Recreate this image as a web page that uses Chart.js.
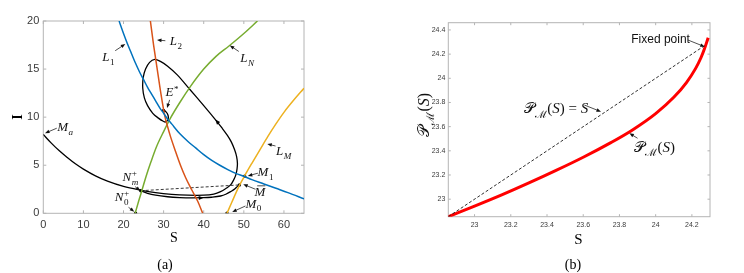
<!DOCTYPE html>
<html>
<head>
<meta charset="utf-8">
<script src="https://cdn.jsdelivr.net/npm/chart.js@4.4.1/dist/chart.umd.min.js"></script>
<style>
  html, body { margin: 0; padding: 0; background: #fff; }
  #wrap { position: relative; width: 744px; height: 273px; overflow: hidden; }
  #wrap canvas { position: absolute; left: 0; top: 0; }
</style>
</head>
<body>
<div id="wrap">
  <canvas id="chartA" width="744" height="273"></canvas>
  <canvas id="chartB" width="744" height="273"></canvas>
</div>
<script>
// ---------- panel (a): phase plane S-I ----------
const sTicksA = [0, 10, 20, 30, 40, 50, 60];
const iTicksA = [0, 5, 10, 15, 20];

// isoclines
const l1S = [18.9, 20, 21, 22, 23, 24, 25, 26, 27, 28, 29, 30, 31, 32, 34, 36, 38, 40, 42, 44, 46, 48, 50, 52, 55, 58, 61, 65];
const l1I = [20, 18.7, 17.6, 16.6, 15.6, 14.7, 13.9, 13.1, 12.4, 11.7, 11.0, 10.4, 9.8, 9.3, 8.3, 7.5, 6.8, 6.1, 5.5, 5.0, 4.55, 4.15, 3.85, 3.5, 3.05, 2.6, 2.15, 1.5];
const l2S = [26.7, 27.5, 28.4, 29.3, 30.3, 31.0, 31.7, 33.0, 34.2, 35.5, 37.0, 38.5, 39.75];
const l2I = [20, 17.5, 15, 12.5, 10.1, 9.0, 8.0, 6.4, 5.0, 3.7, 2.45, 1.25, 0];
const lnS = [22.9, 23.8, 24.6, 25.6, 26.8, 28.2, 30, 31.7, 34, 36.7, 40, 43, 46.3, 50, 53.4];
const lnI = [0, 1.3, 2.4, 3.8, 5.3, 6.9, 8.5, 9.9, 11.5, 13.2, 15.0, 16.3, 17.4, 18.7, 20];
const lmS = [45.8, 47, 48.9, 50.2, 52, 54, 56, 58, 60, 62.5, 65];
const lmI = [0, 1.15, 2.9, 3.9, 5.2, 6.6, 8.0, 9.3, 10.5, 11.8, 13.0];

// trajectory from M_a spiralling to E*
const trajS = [0, 2, 4, 6, 8, 10, 13, 16, 20, 24.2, 28, 32, 36, 40, 42.5, 44.2, 45.6, 46.7, 47.5, 48.0, 48.3, 48.4, 48.2, 47.7, 46.9, 45.9, 44.5, 42.9, 40.0, 36.5, 33.4, 31.0, 29.2, 27.8, 26.5, 25.5, 24.9, 24.8, 25.2, 26.0, 27.3, 28.7, 29.8, 30.5, 31.1, 31.1, 30.6, 30.0];
const trajI = [8.2, 7.3, 6.5, 5.8, 5.15, 4.6, 3.9, 3.35, 2.8, 2.42, 2.15, 1.97, 1.88, 1.88, 2.0, 2.25, 2.6, 2.95, 3.5, 4.0, 4.6, 5.2, 5.9, 6.6, 7.4, 8.1, 8.9, 9.75, 11.2, 12.9, 14.4, 15.3, 15.8, 16.0, 15.7, 15.0, 14.1, 13.0, 12.0, 11.2, 10.4, 9.9, 9.6, 9.5, 9.75, 10.2, 10.55, 10.7];

// order-1 periodic orbit N_m^+ -> M-bar, and the impulsive jump back
const orbS = [24.3, 26, 28, 31, 34, 37, 40, 42, 44.2, 45.5, 46.7, 47.8, 48.4, 48.9];
const orbI = [2.35, 2.08, 1.88, 1.72, 1.64, 1.61, 1.62, 1.67, 1.8, 1.98, 2.25, 2.55, 2.8, 2.95];
const jumpS = [24.3, 48.9];
const jumpI = [2.35, 2.95];

// marked points: N0+, Nm+, M0, M-bar, M1, E*
const dotS = [23, 24.3, 45.8, 48.9, 50.2, 30.0];
const dotI = [0, 2.35, 0, 2.95, 3.85, 10.7];

// ---------- panel (b): Poincare map ----------
const sTicksB = [23, 23.2, 23.4, 23.6, 23.8, 24, 24.2];
const pTicksB = [23, 23.2, 23.4, 23.6, 23.8, 24, 24.2, 24.4];
const mapS = [22.855, 23.0, 23.15, 23.3, 23.45, 23.6, 23.75, 23.87, 24.0, 24.1, 24.17, 24.22, 24.25, 24.27, 24.29];
const mapP = [22.855, 22.942, 23.035, 23.134, 23.238, 23.347, 23.466, 23.571, 23.708, 23.843, 23.965, 24.08, 24.17, 24.246, 24.336];
const diagS = [22.855, 24.277];
const diagP = [22.855, 24.277];

// ---------- helpers ----------
const pts = (xs, ys) => xs.map((v, i) => ({ x: v, y: ys[i] }));
const SERIF = '"Liberation Serif", "DejaVu Serif", serif';

// tiny math-text writer: tokens are [text, kind, superscript]
function drawMath(ctx, tokens, cx, cy, size, angle) {
  const runs = tokens.map(([s, k, up]) => {
    const small = k === 'sub' || k === 'subi' || k === 'sup';
    const fs = small ? size * 0.7 : size;
    const font = (k === 'i' || k === 'ibar' || k === 'subi' ? 'italic ' : '') + fs + 'px ' + SERIF;
    ctx.font = font;
    let w = ctx.measureText(s).width;
    const upFont = (size * 0.7) + 'px ' + SERIF;
    if (up) {
      ctx.font = upFont;
      w = Math.max(w, ctx.measureText(up).width);
    }
    if (small) w += size * 0.04;
    return { s, k, up, font, upFont, w };
  });
  const total = runs.reduce((t, r) => t + r.w, 0);
  ctx.save();
  ctx.translate(cx, cy);
  if (angle) ctx.rotate(angle);
  ctx.textAlign = 'left';
  ctx.textBaseline = 'alphabetic';
  let x = -total / 2;
  const base = size * 0.33;
  runs.forEach(r => {
    ctx.font = r.font;
    let dy = 0;
    if (r.k === 'sub' || r.k === 'subi') dy = size * 0.3;
    if (r.k === 'sup') dy = -size * 0.38;
    if (r.up) dy = size * 0.33;
    const off = (r.k === 'sub' || r.k === 'subi' || r.k === 'sup') ? size * 0.04 : 0;
    ctx.fillText(r.s, x + off, base + dy);
    if (r.up) {
      ctx.font = r.upFont;
      ctx.fillText(r.up, x + off, base - size * 0.38);
    }
    if (r.k === 'ibar') {
      ctx.lineWidth = 0.8;
      ctx.beginPath();
      ctx.moveTo(x + r.w * 0.25, base - size * 0.78);
      ctx.lineTo(x + r.w * 1.0, base - size * 0.78);
      ctx.stroke();
    }
    x += r.w;
  });
  ctx.restore();
}

function arrowLine(ctx, x1, y1, x2, y2, head) {
  const a = Math.atan2(y2 - y1, x2 - x1);
  ctx.beginPath();
  ctx.moveTo(x1, y1);
  ctx.lineTo(x2 - Math.cos(a) * head * 0.6, y2 - Math.sin(a) * head * 0.6);
  ctx.stroke();
  arrowHead(ctx, x2, y2, a, head);
}

function arrowHead(ctx, x, y, a, head) {
  ctx.beginPath();
  ctx.moveTo(x, y);
  ctx.lineTo(x - Math.cos(a) * head - Math.sin(a) * head * 0.4, y - Math.sin(a) * head + Math.cos(a) * head * 0.4);
  ctx.lineTo(x - Math.cos(a) * head + Math.sin(a) * head * 0.4, y - Math.sin(a) * head - Math.cos(a) * head * 0.4);
  ctx.closePath();
  ctx.fill();
}

// matlab style box with inward ticks on all four sides
const frame = {
  id: 'frame',
  beforeDatasetsDraw(chart, args, opts) {
    const { ctx, chartArea: a, scales: { x, y } } = chart;
    ctx.save();
    ctx.strokeStyle = opts.color;
    ctx.lineWidth = 1;
    ctx.strokeRect(a.left, a.top, a.width, a.height);
    ctx.beginPath();
    x.ticks.forEach(t => {
      const p = x.getPixelForValue(t.value);
      ctx.moveTo(p, a.bottom); ctx.lineTo(p, a.bottom - opts.len);
      ctx.moveTo(p, a.top); ctx.lineTo(p, a.top + opts.len);
    });
    y.ticks.forEach(t => {
      const p = y.getPixelForValue(t.value);
      ctx.moveTo(a.left, p); ctx.lineTo(a.left + opts.len, p);
      ctx.moveTo(a.right, p); ctx.lineTo(a.right - opts.len, p);
    });
    ctx.stroke();
    ctx.restore();
  }
};

// labels, leader arrows, trajectory arrows and axis titles
const notes = {
  id: 'notes',
  afterDraw(chart, args, opts) {
    const { ctx, scales: { x, y } } = chart;
    const X = v => x.getPixelForValue(v);
    const Y = v => y.getPixelForValue(v);
    ctx.save();
    ctx.fillStyle = '#111';
    ctx.strokeStyle = '#222';
    ctx.lineWidth = 0.8;
    (opts.leaders || []).forEach(l => arrowLine(ctx, X(l.from[0]), Y(l.from[1]), X(l.to[0]), Y(l.to[1]), 4.5));
    (opts.heads || []).forEach(h => {
      ctx.fillStyle = '#000';
      const a = Math.atan2(Y(h.to[1]) - Y(h.at[1]), X(h.to[0]) - X(h.at[0]));
      arrowHead(ctx, X(h.at[0]), Y(h.at[1]), a, 5);
    });
    ctx.fillStyle = '#111';
    (opts.labels || []).forEach(l => drawMath(ctx, l.tokens, X(l.at[0]), Y(l.at[1]), l.size || 13, 0));
    (opts.plain || []).forEach(t => {
      ctx.font = t.font;
      ctx.textAlign = 'center';
      ctx.textBaseline = 'middle';
      ctx.fillText(t.text, X(t.at[0]), Y(t.at[1]));
    });
    // page-positioned texts (axis titles, captions)
    (opts.titles || []).forEach(t => {
      ctx.save();
      ctx.translate(t.px, t.py);
      if (t.angle) ctx.rotate(t.angle);
      if (t.tokens) {
        drawMath(ctx, t.tokens, 0, 0, t.size, 0);
      } else {
        ctx.font = t.font;
        ctx.textAlign = 'center';
        ctx.textBaseline = 'middle';
        ctx.fillStyle = '#000';
        ctx.fillText(t.text, 0, 0);
      }
      ctx.restore();
    });
    ctx.restore();
  }
};

function axis(min, max, list, fit, pad, size) {
  return {
    type: 'linear', min, max,
    afterBuildTicks: s => { s.ticks = list.map(v => ({ value: v })); },
    afterFit: fit,
    grid: { display: false, drawTicks: false },
    border: { display: false },
    ticks: {
      padding: pad, maxRotation: 0, autoSkip: false, color: '#3a3a3a',
      font: { family: 'Liberation Sans', size },
      callback: v => String(+v.toFixed(2))
    }
  };
}

const line = (data, color, width, extra) => Object.assign({
  data, showLine: true, borderColor: color, borderWidth: width,
  pointRadius: 0, fill: false, cubicInterpolationMode: 'monotone'
}, extra || {});

// ---------- chart (a) ----------
new Chart(document.getElementById('chartA'), {
  type: 'scatter',
  data: {
    datasets: [
      line(pts(l1S, l1I), '#0072BD', 1.5),
      line(pts(l2S, l2I), '#D95319', 1.5),
      line(pts(lnS, lnI), '#77AC30', 1.5),
      line(pts(lmS, lmI), '#EDB120', 1.5),
      line(pts(jumpS, jumpI), '#222', 0.9, { borderDash: [3, 2] }),
      line(pts(orbS, orbI), '#000', 1.3),
      line(pts(trajS, trajI), '#000', 1.3, { cubicInterpolationMode: 'default', tension: 0.35 }),
      { data: pts(dotS, dotI), showLine: false, pointRadius: 1.7, pointBorderWidth: 0, pointBackgroundColor: '#000' }
    ]
  },
  options: {
    responsive: false, animation: false, events: [],
    layout: { padding: { left: 0, top: 21, right: 440, bottom: 0 } },
    scales: {
      x: axis(0, 65, sTicksA, s => { s.height = 59.7; }, 5, 11),
      y: axis(0, 20, iTicksA, s => { s.width = 43.3; }, 4, 11)
    },
    plugins: {
      legend: { display: false },
      tooltip: { enabled: false },
      frame: { color: '#b4b4b4', len: 3 },
      notes: {
        leaders: [
          { from: [17.93, 16.91], to: [20.43, 17.6] },
          { from: [30.43, 17.95], to: [28.35, 18.02] },
          { from: [48.75, 16.83], to: [46.5, 17.46] },
          { from: [31.5, 11.8], to: [30.85, 10.94] },
          { from: [3.35, 8.85], to: [0.43, 8.33] },
          { from: [22.9, 2.77], to: [24.18, 2.35] },
          { from: [21.25, 0.625], to: [22.68, 0.17] },
          { from: [57.9, 7.0], to: [55.85, 7.2] },
          { from: [53.5, 4.17], to: [51, 3.89] },
          { from: [52.9, 2.5], to: [49.85, 3.02] },
          { from: [50.4, 0.76], to: [47.1, 0.135] }
        ],
        heads: [
          { at: [42.9, 9.75], to: [40.0, 11.2] },
          { at: [40.0, 1.62], to: [42.0, 1.67] }
        ],
        labels: [
          { tokens: [['L', 'i'], ['1', 'sub']], at: [16.25, 16.31] },
          { tokens: [['L', 'i'], ['2', 'sub']], at: [33.05, 17.95] },
          { tokens: [['L', 'i'], ['N', 'subi']], at: [50.8, 16.2] },
          { tokens: [['E', 'i'], ['*', 'sup']], at: [32.1, 12.6] },
          { tokens: [['M', 'i'], ['a', 'subi']], at: [5.43, 8.96] },
          { tokens: [['N', 'i'], ['m', 'subi', '+']], at: [21.7, 3.81] },
          { tokens: [['N', 'i'], ['0', 'sub', '+']], at: [19.6, 1.73] },
          { tokens: [['L', 'i'], ['M', 'subi']], at: [59.9, 6.52] },
          { tokens: [['M', 'i'], ['1', 'sub']], at: [55.4, 4.33] },
          { tokens: [['M', 'ibar']], at: [54.0, 2.25] },
          { tokens: [['M', 'i'], ['0', 'sub']], at: [52.4, 1.04] }
        ],
        titles: [
          { text: 'I', font: 'bold 14px ' + SERIF, px: 18.3, py: 117, angle: -Math.PI / 2 },
          { text: 'S', font: '14px ' + SERIF, px: 174, py: 238 },
          { text: '(a)', font: '14px ' + SERIF, px: 165, py: 265 }
        ]
      }
    }
  },
  plugins: [frame, notes]
});

// ---------- chart (b) ----------
const pmTokens = [['\u{1D4AB}', 'r'], ['\u2133', 'sub'], ['(', 'r'], ['S', 'i'], [')', 'r']];

new Chart(document.getElementById('chartB'), {
  type: 'scatter',
  data: {
    datasets: [
      line(pts(diagS, diagP), '#1a1a1a', 0.9, { borderDash: [3, 2] }),
      line(pts(mapS, mapP), '#ff0000', 3)
    ]
  },
  options: {
    responsive: false, animation: false, events: [],
    layout: { padding: { left: 380, top: 22.7, right: 34, bottom: 0 } },
    scales: {
      x: axis(22.855, 24.3, sTicksB, s => { s.height = 56.3; }, 4, 7),
      y: axis(22.855, 24.46, pTicksB, s => { s.width = 68.3; }, 3, 7)
    },
    plugins: {
      legend: { display: false },
      tooltip: { enabled: false },
      frame: { color: '#b4b4b4', len: 2.5 },
      notes: {
        leaders: [
          { from: [24.178, 24.317], to: [24.271, 24.261] },
          { from: [23.606, 23.779], to: [23.698, 23.724] },
          { from: [23.9, 23.504], to: [23.855, 23.545] }
        ],
        labels: [
          { tokens: pmTokens.concat([[' = ', 'r'], ['S', 'i']]), at: [23.449, 23.752], size: 15 },
          { tokens: pmTokens, at: [23.993, 23.435], size: 15 }
        ],
        plain: [
          { text: 'Fixed point', font: '12px "Liberation Sans"', at: [24.027, 24.322] }
        ],
        titles: [
          { tokens: pmTokens, size: 16, px: 424, py: 115, angle: -Math.PI / 2 },
          { text: 'S', font: '15px ' + SERIF, px: 578.5, py: 240 },
          { text: '(b)', font: '14px ' + SERIF, px: 573, py: 265 }
        ]
      }
    }
  },
  plugins: [frame, notes]
});
</script>
</body>
</html>
